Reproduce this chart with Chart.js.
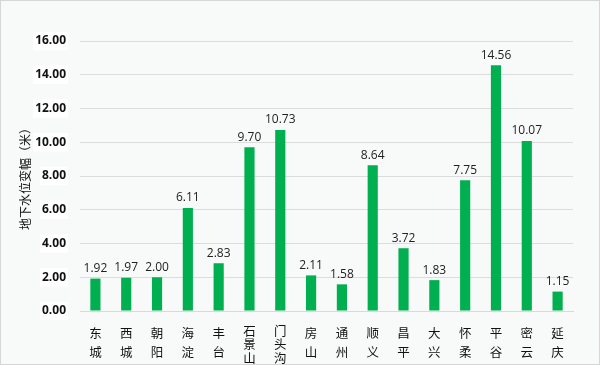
<!DOCTYPE html>
<html><head><meta charset="utf-8">
<script src="https://cdn.jsdelivr.net/npm/chart.js@4/dist/chart.umd.min.js"></script>
<style>
html,body{margin:0;padding:0;background:#fff;}
#wrap{width:598px;height:363px;border:1px solid #d6d6d6;background:#f8f9f9;}
</style></head>
<body><div id="wrap"><canvas id="c" width="598" height="363"></canvas></div>
<script>
const categories = [["东","城"],["西","城"],["朝","阳"],["海","淀"],["丰","台"],["石","景","山"],["门","头","沟"],["房","山"],["通","州"],["顺","义"],["昌","平"],["大","兴"],["怀","柔"],["平","谷"],["密","云"],["延","庆"]];
const values = [1.92,1.97,2.00,6.11,2.83,9.70,10.73,2.11,1.58,8.64,3.72,1.83,7.75,14.56,10.07,1.15];
const yTicks = [0,2,4,6,8,10,12,14,16];
const yTitle = "地下水位变幅（米）";

const valueLabels = {
  id:'valueLabels',
  afterDatasetsDraw(chart){
    const ctx = chart.ctx;
    const meta = chart.getDatasetMeta(0);
    ctx.save();
    ctx.font = '12px "Open Sans", "DejaVu Sans", sans-serif';
    ctx.fillStyle = '#222';
    ctx.textAlign = 'center';
    ctx.textBaseline = 'bottom';
    meta.data.forEach((bar,i)=>{
      ctx.fillText(values[i].toFixed(2), bar.x, bar.y - 4);
    });
    ctx.restore();
  }
};

new Chart(document.getElementById('c'), {
  type:'bar',
  data:{labels:categories, datasets:[{data:values, backgroundColor:'#00b050', barPercentage:0.33, categoryPercentage:1.0}]},
  options:{
    responsive:false, animation:false,
    layout:{padding:{left:17,right:26,top:40,bottom:0}},
    plugins:{legend:{display:false}, tooltip:{enabled:false}},
    scales:{
      x:{
        grid:{display:false},
        border:{color:'#d9d9d9'},
        afterFit(axis){ axis.height = 53; },
        ticks:{color:'#111',
          font:(c)=>({family:'"Noto Sans CJK SC"', size:12.5, lineHeight:(categories[c.index]||[]).length>2?1.1:1.5}),
          maxRotation:0, autoSkip:false, padding:5}
      },
      y:{
        min:0, max:16,
        afterBuildTicks(axis){ axis.ticks = yTicks.map(v=>({value:v})); },
        afterFit(axis){ axis.width = 62; },
        grid:{color:'#dcdcdc', drawTicks:false},
        border:{display:false},
        ticks:{color:'#111', font:{family:'"Open Sans", sans-serif', size:12, weight:'bold'}, padding:14,
          callback:(v)=>Number(v).toFixed(2), showLabelBackdrop:true, backdropColor:'#ffffff', backdropPadding:2},
        title:{display:true, text:yTitle, color:'#111', font:{family:'"Noto Sans CJK SC"', size:12}, padding:{top:0,bottom:1}}
      }
    }
  },
  plugins:[valueLabels]
});
</script></body></html>
